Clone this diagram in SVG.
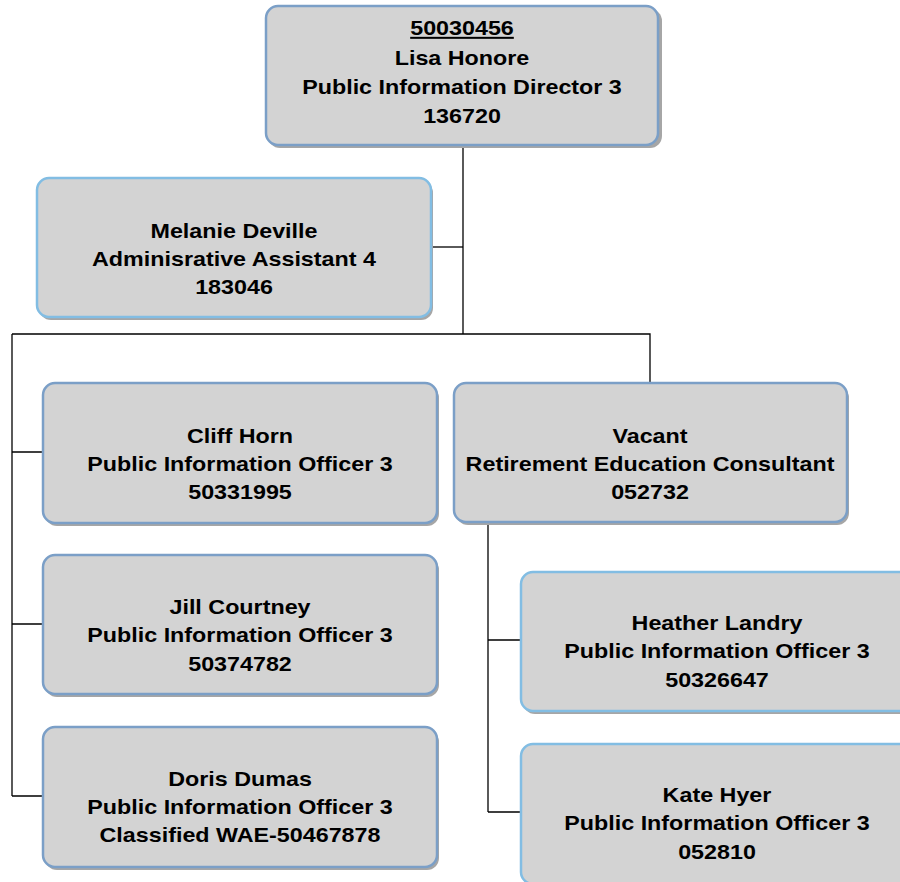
<svg xmlns="http://www.w3.org/2000/svg" width="900" height="882" viewBox="0 0 900 882">
<style>
.sh{fill:#a6a6a6}
.box{fill:#d3d3d3;stroke:#7b9fc7;stroke-width:2.5}
.lb{stroke:#82bde3}
text{font-family:"Liberation Sans",Arial,sans-serif;font-weight:bold;font-size:20px;fill:#000;text-anchor:middle}
.conn{fill:none;stroke:#000;stroke-width:1.3}
</style>
<rect width="900" height="882" fill="#fff"/>
<g id="connectors" class="conn">
<path d="M463 145V334"/>
<path d="M431 247H463"/>
<path d="M12 334H650V383"/>
<path d="M12 334V796"/>
<path d="M12 452H43M12 624H43M12 796H43"/>
<path d="M488 521V812"/>
<path d="M488 640H521M488 812H521"/>
</g>
<g id="n_lisa">
<rect class="sh" x="268" y="9" width="394" height="139" rx="12"/>
<rect class="box" x="266" y="6" width="392" height="139" rx="12"/>
<g transform="translate(462 0) scale(1.165 1)">
<text x="0" y="35" text-decoration="underline">50030456</text>
<text x="0" y="65">Lisa Honore</text>
<text x="0" y="94">Public Information Director 3</text>
<text x="0" y="123">136720</text>
</g>
</g>
<g id="n_melanie">
<rect class="sh" x="39" y="181" width="394" height="139" rx="12"/>
<rect class="box lb" x="37" y="178" width="394" height="139" rx="12"/>
<g transform="translate(234 0) scale(1.165 1)">
<text x="0" y="238">Melanie Deville</text>
<text x="0" y="266">Adminisrative Assistant 4</text>
<text x="0" y="294">183046</text>
</g>
</g>
<g id="n_cliff">
<rect class="sh" x="45" y="386" width="394" height="140" rx="12"/>
<rect class="box" x="43" y="383" width="394" height="140" rx="12"/>
<g transform="translate(240 0) scale(1.165 1)">
<text x="0" y="443">Cliff Horn</text>
<text x="0" y="471">Public Information Officer 3</text>
<text x="0" y="499">50331995</text>
</g>
</g>
<g id="n_vacant">
<rect class="sh" x="456" y="386" width="393" height="139" rx="12"/>
<rect class="box" x="454" y="383" width="393" height="139" rx="12"/>
<g transform="translate(650 0) scale(1.165 1)">
<text x="0" y="443">Vacant</text>
<text x="0" y="471">Retirement Education Consultant</text>
<text x="0" y="499">052732</text>
</g>
</g>
<g id="n_jill">
<rect class="sh" x="45" y="558" width="394" height="139" rx="12"/>
<rect class="box" x="43" y="555" width="394" height="139" rx="12"/>
<g transform="translate(240 0) scale(1.165 1)">
<text x="0" y="614">Jill Courtney</text>
<text x="0" y="642">Public Information Officer 3</text>
<text x="0" y="671">50374782</text>
</g>
</g>
<g id="n_doris">
<rect class="sh" x="45" y="730" width="394" height="140" rx="12"/>
<rect class="box" x="43" y="727" width="394" height="140" rx="12"/>
<g transform="translate(240 0) scale(1.165 1)">
<text x="0" y="786">Doris Dumas</text>
<text x="0" y="814">Public Information Officer 3</text>
<text x="0" y="842">Classified WAE-50467878</text>
</g>
</g>
<g id="n_heather">
<rect class="sh" x="523" y="575" width="394" height="139" rx="12"/>
<rect class="box lb" x="521" y="572" width="394" height="139" rx="12"/>
<g transform="translate(717 0) scale(1.165 1)">
<text x="0" y="630">Heather Landry</text>
<text x="0" y="658">Public Information Officer 3</text>
<text x="0" y="687">50326647</text>
</g>
</g>
<g id="n_kate">
<rect class="sh" x="523" y="747" width="394" height="140" rx="12"/>
<rect class="box lb" x="521" y="744" width="394" height="140" rx="12"/>
<g transform="translate(717 0) scale(1.165 1)">
<text x="0" y="802">Kate Hyer</text>
<text x="0" y="830">Public Information Officer 3</text>
<text x="0" y="859">052810</text>
</g>
</g>
</svg>
